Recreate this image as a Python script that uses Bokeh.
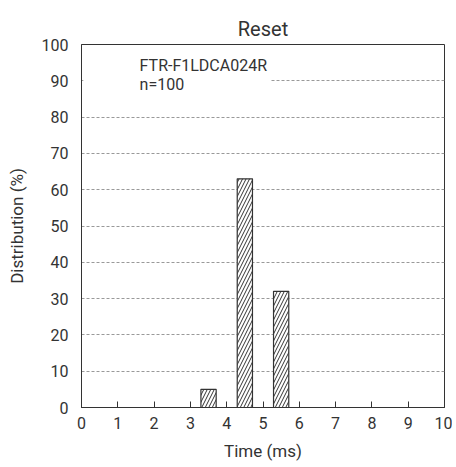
from bokeh.plotting import figure
from bokeh.models import Range1d, FixedTicker, Label, BoxAnnotation
from bokeh.embed import file_html
from bokeh.resources import INLINE

times = [3.5, 4.5, 5.5]
dist = [5, 63, 32]
bar_width = 0.42
x_ticks = list(range(0, 11))
y_ticks = list(range(0, 101, 10))
title = "Reset"
model = "FTR-F1LDCA024R"
n_text = "n=100"

FONT = "Roboto"
TXT = "#333333"

p = figure(width=452, height=467, output_backend="svg", toolbar_location=None,
           x_range=Range1d(0, 10), y_range=Range1d(0, 100),
           min_border_left=81, min_border_right=8, min_border_top=44, min_border_bottom=60)
p.title.text = title
p.title.align = "center"
p.title.vertical_align = "top"
p.title.text_font = FONT
p.title.text_font_size = "20px"
p.title.text_font_style = "normal"
p.title.text_color = TXT
p.title.standoff = 4

p.vbar(x=times, top=dist, width=bar_width, bottom=0, fill_color="white",
       line_color="#333333", line_width=1.2,
       hatch_pattern="right_diagonal_line", hatch_color="#333333",
       hatch_scale=7, hatch_weight=1)

p.xaxis.ticker = FixedTicker(ticks=x_ticks)
p.yaxis.ticker = FixedTicker(ticks=y_ticks)
p.xaxis.major_tick_in = 6
p.xaxis.major_tick_out = 0
p.yaxis.major_tick_in = 0
p.yaxis.major_tick_out = 0
for ax in (p.xaxis, p.yaxis):
    ax.minor_tick_line_color = None
    ax.axis_line_color = "#333333"
    ax.major_tick_line_color = "#333333"
    ax.major_label_text_font = FONT
    ax.major_label_text_font_size = "16px"
    ax.major_label_text_color = TXT
    ax.axis_label_text_font = FONT
    ax.axis_label_text_font_size = "17px"
    ax.axis_label_text_font_style = "normal"
    ax.axis_label_text_color = TXT
p.xaxis.major_label_standoff = 9
p.yaxis.major_label_standoff = 13
p.xaxis.axis_label = "Time (ms)"
p.yaxis.axis_label = "Distribution (%)"
p.xaxis.axis_label_standoff = 9
p.yaxis.axis_label_standoff = 12

p.xgrid.grid_line_color = None
p.ygrid.grid_line_color = "#999999"
p.ygrid.grid_line_dash = "3 2"
p.ygrid.grid_line_width = 1

p.outline_line_color = "#333333"
p.outline_line_alpha = 1
p.outline_line_width = 1

p.add_layout(BoxAnnotation(left=0.05, right=5.2, bottom=85, top=99.6,
                           fill_color="white", fill_alpha=1, line_alpha=0,
                           level="underlay"))

p.add_layout(Label(x=1.6, y=91.5, text=model, text_font=FONT,
                   text_font_size="16px", text_color=TXT))
p.add_layout(Label(x=1.6, y=86.5, text=n_text, text_font=FONT,
                   text_font_size="16px", text_color=TXT))

open("out.html", "w").write(file_html(p, INLINE))
